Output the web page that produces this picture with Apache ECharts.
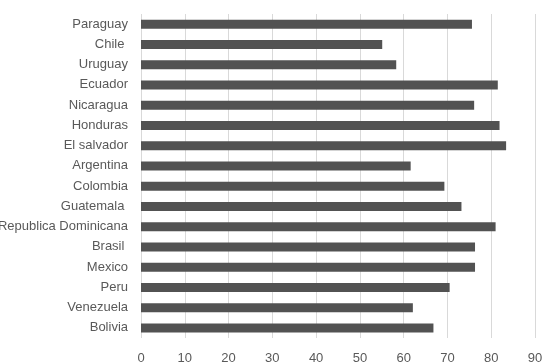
<!DOCTYPE html>
<html>
<head>
<meta charset="utf-8">
<script src="https://cdn.jsdelivr.net/npm/echarts@6/dist/echarts.min.js"></script>
<style>
  html, body { margin: 0; padding: 0; background: #fff; }
  #container { width: 542px; height: 363px; }
</style>
</head>
<body>
<div id="container"></div>
<script>
// categories top to bottom as in the picture
var countries = ['Paraguay', 'Chile ', 'Uruguay', 'Ecuador', 'Nicaragua', 'Honduras', 'El salvador',
  'Argentina', 'Colombia', 'Guatemala ', 'Republica Dominicana', 'Brasil ', 'Mexico', 'Peru',
  'Venezuela', 'Bolivia'];
var values = [75.6, 55.1, 58.3, 81.5, 76.1, 81.9, 83.4, 61.6, 69.3, 73.2, 81.0, 76.3, 76.3, 70.5, 62.1, 66.8];
var xTicks = [0, 10, 20, 30, 40, 50, 60, 70, 80, 90];

var myChart = echarts.init(document.getElementById('container'));
var option = {
  animation: false,
  grid: {
    left: 141,
    right: 7,
    top: 14,
    bottom: 25,
    containLabel: false,
    outerBoundsMode: 'none'
  },
  xAxis: {
    type: 'value',
    min: xTicks[0],
    max: xTicks[xTicks.length - 1],
    interval: 10,
    axisLine: { show: false },
    axisTick: { show: false },
    splitLine: { show: true, lineStyle: { color: '#d9d9d9', width: 1 } },
    axisLabel: {
      color: '#595959',
      fontFamily: 'Liberation Sans, Arial, sans-serif',
      fontSize: 13,
      margin: 14
    }
  },
  yAxis: {
    type: 'category',
    inverse: true,
    data: countries,
    axisLine: { show: false },
    axisTick: { show: false },
    axisLabel: {
      color: '#595959',
      fontFamily: 'Liberation Sans, Arial, sans-serif',
      fontSize: 13,
      margin: 13
    }
  },
  series: [{
    type: 'bar',
    data: values,
    barWidth: 9,
    itemStyle: { color: '#525252' }
  }]
};
myChart.setOption(option);
</script>
</body>
</html>
